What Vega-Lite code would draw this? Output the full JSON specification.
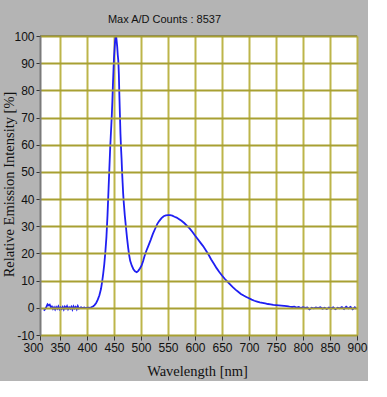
{
  "$schema": "https://vega.github.io/schema/vega-lite/v6.json",
  "width": 317,
  "height": 299,
  "autosize": {"type": "none"},
  "padding": {"left": 40, "top": 36, "right": 11, "bottom": 46},
  "background": "#b4b4b4",
  "title": {
    "text": "Max A/D Counts : 8537",
    "anchor": "middle",
    "frame": "group",
    "dx": -34,
    "dy": 9,
    "baseline": "alphabetic",
    "offset": 5,
    "font": "Liberation Sans",
    "fontSize": 11,
    "fontWeight": "normal",
    "color": "#111111"
  },
  "config": {
    "view": {"stroke": null, "fill": "white"},
    "axis": {
      "labelFont": "Liberation Sans",
      "labelFontSize": 12,
      "labelColor": "#111111",
      "labelOverlap": false,
      "labelFlush": false,
      "titleFont": "Liberation Serif",
      "titleFontSize": 14.5,
      "titleFontWeight": "normal",
      "titleColor": "#111111",
      "tickColor": "#333333",
      "tickWidth": 1
    }
  },
  "resolve": {"axis": {"y": "independent"}},
  "layer": [
    {
      "data": {
        "values": [
          {"wl": 320, "v": -1.0}, {"wl": 322, "v": -0.6}, {"wl": 325, "v": 0.4}, {"wl": 327, "v": 1.3},
          {"wl": 329, "v": 0.9}, {"wl": 331, "v": 1.2}, {"wl": 333, "v": 0.3}, {"wl": 335, "v": 0.5},
          {"wl": 337, "v": -0.4}, {"wl": 339, "v": 0.2}, {"wl": 341, "v": -0.6}, {"wl": 343, "v": 0.3},
          {"wl": 345, "v": -0.3}, {"wl": 347, "v": 0.5}, {"wl": 349, "v": -0.5}, {"wl": 351, "v": 0.1},
          {"wl": 353, "v": -0.4}, {"wl": 355, "v": 0.3}, {"wl": 357, "v": -0.6}, {"wl": 359, "v": 0.4},
          {"wl": 361, "v": -0.2}, {"wl": 363, "v": 0.6}, {"wl": 365, "v": -0.5}, {"wl": 367, "v": 0.2},
          {"wl": 369, "v": -0.3}, {"wl": 371, "v": 0.4}, {"wl": 373, "v": -0.6}, {"wl": 375, "v": 0.5},
          {"wl": 377, "v": -0.2}, {"wl": 379, "v": 0.3}, {"wl": 381, "v": -0.5}, {"wl": 383, "v": 0.6},
          {"wl": 385, "v": -0.3}, {"wl": 387, "v": -0.1}, {"wl": 389, "v": 0.2}, {"wl": 391, "v": -0.1},
          {"wl": 393, "v": 0.0}, {"wl": 395, "v": 0.1}, {"wl": 397, "v": -0.1}, {"wl": 399, "v": 0.0},
          {"wl": 402, "v": 0.1}, {"wl": 405, "v": 0.0}, {"wl": 408, "v": 0.2}, {"wl": 411, "v": 0.5},
          {"wl": 414, "v": 1.0}, {"wl": 417, "v": 1.8}, {"wl": 420, "v": 3.0}, {"wl": 423, "v": 4.6},
          {"wl": 426, "v": 7.0}, {"wl": 428, "v": 9.5}, {"wl": 430, "v": 12.5}, {"wl": 432, "v": 16},
          {"wl": 434, "v": 20.5}, {"wl": 436, "v": 26}, {"wl": 438, "v": 34}, {"wl": 440, "v": 44},
          {"wl": 441, "v": 49}, {"wl": 442, "v": 54}, {"wl": 443, "v": 59}, {"wl": 444, "v": 63},
          {"wl": 445, "v": 67}, {"wl": 446, "v": 71}, {"wl": 447, "v": 76}, {"wl": 448, "v": 82},
          {"wl": 449, "v": 87}, {"wl": 450, "v": 92}, {"wl": 451, "v": 95}, {"wl": 452, "v": 98},
          {"wl": 453, "v": 99.6}, {"wl": 454, "v": 100}, {"wl": 455, "v": 98}, {"wl": 456, "v": 96},
          {"wl": 457, "v": 93}, {"wl": 458, "v": 91}, {"wl": 459, "v": 86}, {"wl": 460, "v": 78},
          {"wl": 461, "v": 71}, {"wl": 462, "v": 64}, {"wl": 463, "v": 59}, {"wl": 464, "v": 55},
          {"wl": 465, "v": 50}, {"wl": 466, "v": 46}, {"wl": 467, "v": 42}, {"wl": 468, "v": 39},
          {"wl": 470, "v": 34}, {"wl": 472, "v": 30}, {"wl": 474, "v": 26}, {"wl": 476, "v": 22.5},
          {"wl": 478, "v": 19.5}, {"wl": 480, "v": 17.3}, {"wl": 483, "v": 15.5}, {"wl": 486, "v": 14.2},
          {"wl": 489, "v": 13.4}, {"wl": 492, "v": 13.1}, {"wl": 495, "v": 13.6}, {"wl": 498, "v": 14.5},
          {"wl": 501, "v": 15.5}, {"wl": 504, "v": 17.2}, {"wl": 507, "v": 19.3}, {"wl": 510, "v": 21},
          {"wl": 514, "v": 23}, {"wl": 518, "v": 25}, {"wl": 522, "v": 27.2}, {"wl": 526, "v": 29},
          {"wl": 530, "v": 30.8}, {"wl": 534, "v": 32}, {"wl": 538, "v": 33}, {"wl": 542, "v": 33.7},
          {"wl": 546, "v": 34}, {"wl": 550, "v": 34.1}, {"wl": 554, "v": 34.1}, {"wl": 558, "v": 33.9},
          {"wl": 562, "v": 33.5}, {"wl": 566, "v": 33.2}, {"wl": 570, "v": 32.7}, {"wl": 575, "v": 32.0},
          {"wl": 580, "v": 31.2}, {"wl": 585, "v": 30.2}, {"wl": 590, "v": 29.2}, {"wl": 595, "v": 28.0},
          {"wl": 600, "v": 26.6}, {"wl": 605, "v": 25.3}, {"wl": 610, "v": 24.0}, {"wl": 615, "v": 22.7},
          {"wl": 620, "v": 21.2}, {"wl": 625, "v": 19.6}, {"wl": 630, "v": 17.8}, {"wl": 635, "v": 16.2},
          {"wl": 640, "v": 14.6}, {"wl": 645, "v": 13.2}, {"wl": 650, "v": 11.9}, {"wl": 655, "v": 10.7},
          {"wl": 660, "v": 9.6}, {"wl": 665, "v": 8.6}, {"wl": 670, "v": 7.6}, {"wl": 675, "v": 6.7},
          {"wl": 680, "v": 5.9}, {"wl": 685, "v": 5.1}, {"wl": 690, "v": 4.5}, {"wl": 695, "v": 4.0},
          {"wl": 700, "v": 3.5}, {"wl": 705, "v": 3.0}, {"wl": 710, "v": 2.6}, {"wl": 715, "v": 2.3},
          {"wl": 720, "v": 2.0}, {"wl": 725, "v": 1.8}, {"wl": 730, "v": 1.6}, {"wl": 735, "v": 1.4},
          {"wl": 740, "v": 1.3}, {"wl": 745, "v": 1.1}, {"wl": 750, "v": 1.0}, {"wl": 755, "v": 0.9},
          {"wl": 760, "v": 0.8}, {"wl": 765, "v": 0.7}, {"wl": 770, "v": 0.6}, {"wl": 775, "v": 0.4},
          {"wl": 780, "v": 0.3}, {"wl": 784, "v": 0.4}, {"wl": 788, "v": 0.1}, {"wl": 792, "v": 0.3},
          {"wl": 796, "v": -0.1}, {"wl": 800, "v": 0.2}, {"wl": 804, "v": 0.0}, {"wl": 808, "v": 0.1},
          {"wl": 812, "v": -0.6}, {"wl": 816, "v": 0.0}, {"wl": 820, "v": -0.2}, {"wl": 824, "v": 0.1},
          {"wl": 828, "v": -0.1}, {"wl": 832, "v": 0.2}, {"wl": 836, "v": -0.3}, {"wl": 840, "v": 0.0},
          {"wl": 844, "v": -0.4}, {"wl": 848, "v": 0.1}, {"wl": 852, "v": -0.3}, {"wl": 856, "v": 0.2},
          {"wl": 860, "v": -0.5}, {"wl": 864, "v": 0.0}, {"wl": 868, "v": -0.2}, {"wl": 872, "v": 0.3},
          {"wl": 876, "v": -0.4}, {"wl": 880, "v": 0.4}, {"wl": 884, "v": -0.2}, {"wl": 888, "v": 0.3},
          {"wl": 892, "v": -0.5}, {"wl": 896, "v": 0.2}, {"wl": 899, "v": -0.4}
        ]
      },
      "mark": {"type": "line", "color": "#1f1ff2", "strokeWidth": 1.8, "clip": true},
      "encoding": {
        "x": {
          "field": "wl",
          "type": "quantitative",
          "scale": {"domain": [313, 900], "nice": false, "zero": false},
          "axis": {
            "title": "Wavelength [nm]",
            "values": [313, 350, 400, 450, 500, 550, 600, 650, 700, 750, 800, 850, 900],
            "labelExpr": "datum.value < 330 ? '300' : datum.label",
            "labelOffset": {"condition": {"test": "datum.value < 330", "value": -7}, "value": 0},
            "grid": true,
            "gridColor": {"condition": {"test": "datum.value < 330", "value": "transparent"}, "value": "#bdb54a"},
            "gridWidth": 2,
            "gridOpacity": 1,
            "domain": false,
            "tickSize": 5,
            "labelPadding": 2,
            "titleX": 157,
            "titleY": 40,
            "titleBaseline": "alphabetic"
          }
        },
        "y": {
          "field": "v",
          "type": "quantitative",
          "scale": {"domain": [-10, 100], "nice": false, "zero": false},
          "axis": {
            "title": "Relative Emission Intensity [%]",
            "values": [-10, 0, 10, 20, 30, 40, 50, 60, 70, 80, 90, 100],
            "labelExpr": "datum.value < 0 ? '-10' : datum.label",
            "grid": true,
            "gridColor": "#a8a032",
            "gridWidth": 2,
            "gridOpacity": 1,
            "domain": true,
            "domainColor": "#7a7a7a",
            "domainWidth": 2,
            "tickSize": 4,
            "labelPadding": 2,
            "titleAngle": -90,
            "titleX": -27,
            "titleY": 148,
            "titleAlign": "center",
            "titleBaseline": "alphabetic",
            "zindex": 1
          }
        }
      }
    },
    {
      "data": {"values": [{}]},
      "mark": {"type": "rule", "color": "#7a7a7a", "strokeWidth": 2},
      "encoding": {"y": {"datum": 100, "type": "quantitative", "axis": null}}
    }
  ]
}
